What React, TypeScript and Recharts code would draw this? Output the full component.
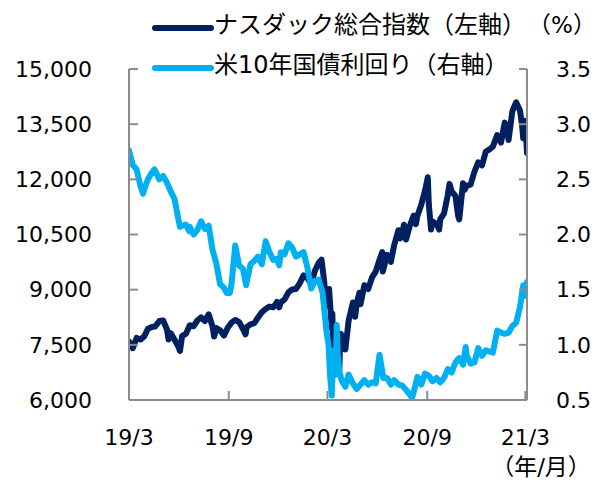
import React from "react";
import { LineChart, Line, XAxis, YAxis } from "recharts";

const nasdaqName = "ナスダック総合指数（左軸）";
const yieldName = "米10年国債利回り（右軸）";
const nasdaqColor = "#002060";
const yieldColor = "#00B0F0";

const nasdaqDates = [
  "2019-03-01","2019-03-08","2019-03-15","2019-03-22","2019-03-29","2019-04-05","2019-04-12","2019-04-18","2019-04-26","2019-05-03",
  "2019-05-10","2019-05-13","2019-05-17","2019-05-24","2019-05-31","2019-06-03","2019-06-07","2019-06-14","2019-06-21","2019-06-28",
  "2019-07-05","2019-07-12","2019-07-19","2019-07-26","2019-08-02","2019-08-05","2019-08-09","2019-08-16","2019-08-23","2019-08-30",
  "2019-09-06","2019-09-13","2019-09-20","2019-09-27","2019-10-02","2019-10-04","2019-10-11","2019-10-18","2019-10-25","2019-11-01",
  "2019-11-08","2019-11-15","2019-11-22","2019-11-29","2019-12-03","2019-12-06","2019-12-13","2019-12-20","2019-12-27","2020-01-03",
  "2020-01-10","2020-01-17","2020-01-24","2020-01-31","2020-02-07","2020-02-14","2020-02-19","2020-02-21","2020-02-24","2020-02-27",
  "2020-03-03","2020-03-04","2020-03-06","2020-03-09","2020-03-10","2020-03-12","2020-03-13","2020-03-16","2020-03-17","2020-03-18",
  "2020-03-20","2020-03-23","2020-03-24","2020-03-26","2020-03-27","2020-03-31","2020-04-03","2020-04-09","2020-04-17","2020-04-21",
  "2020-04-24","2020-04-29","2020-05-01","2020-05-08","2020-05-15","2020-05-22","2020-05-29","2020-06-05","2020-06-10","2020-06-11",
  "2020-06-19","2020-06-26","2020-07-02","2020-07-10","2020-07-13","2020-07-17","2020-07-20","2020-07-24","2020-07-31","2020-08-07",
  "2020-08-11","2020-08-14","2020-08-21","2020-08-28","2020-09-02","2020-09-04","2020-09-08","2020-09-11","2020-09-18","2020-09-23",
  "2020-09-25","2020-10-02","2020-10-09","2020-10-12","2020-10-16","2020-10-23","2020-10-28","2020-10-30","2020-11-06","2020-11-09",
  "2020-11-13","2020-11-20","2020-11-27","2020-12-04","2020-12-11","2020-12-18","2020-12-24","2020-12-31","2021-01-08","2021-01-15",
  "2021-01-22","2021-01-27","2021-01-29","2021-02-05","2021-02-12","2021-02-19","2021-02-23","2021-02-25","2021-03-01","2021-03-04",
];
const nasdaqValues = [
  7595,7408,7688,7643,7729,7938,7984,7998,8146,8164,
  7917,7647,7816,7637,7453,7333,7742,7797,8032,8006,
  8162,8244,8146,8330,8004,7726,7959,7896,7751,7963,
  8103,8177,8118,7940,7785,7982,8057,8090,8243,8386,
  8475,8540,8519,8665,8521,8656,8735,8925,9007,9020,
  9179,9389,9315,9151,9520,9731,9817,9577,9221,8567,
  8684,9018,8576,7950,8344,7201,7875,6905,7335,6989,
  6880,6860,7418,7798,7502,7700,7373,8154,8650,8263,
  8634,8914,8605,9121,9015,9325,9490,9815,10020,9493,
  9946,9757,10208,10617,10391,10503,10767,10363,10745,11011,
  10782,11019,11312,11696,12056,11313,10633,10854,10793,10633,
  10913,11076,11580,11876,11671,11548,11005,10912,11895,11713,
  11829,11855,12206,12464,12378,12756,12805,12888,13202,12999,
  13543,13271,13071,13856,14095,13874,13465,13119,13589,12723,
];

const yieldDates = [
  "2019-03-01","2019-03-08","2019-03-15","2019-03-22","2019-03-27","2019-03-29","2019-04-05","2019-04-12","2019-04-17","2019-04-26",
  "2019-05-03","2019-05-10","2019-05-17","2019-05-24","2019-05-31","2019-06-03","2019-06-07","2019-06-14","2019-06-20","2019-06-21",
  "2019-06-28","2019-07-05","2019-07-12","2019-07-19","2019-07-26","2019-08-02","2019-08-09","2019-08-16","2019-08-23","2019-08-28",
  "2019-09-03","2019-09-06","2019-09-13","2019-09-20","2019-09-27","2019-10-03","2019-10-11","2019-10-18","2019-10-25","2019-11-01",
  "2019-11-08","2019-11-15","2019-11-22","2019-11-29","2019-12-03","2019-12-06","2019-12-13","2019-12-20","2019-12-27","2020-01-03",
  "2020-01-10","2020-01-17","2020-01-24","2020-01-31","2020-02-07","2020-02-14","2020-02-21","2020-02-28","2020-03-03","2020-03-06",
  "2020-03-09","2020-03-11","2020-03-13","2020-03-16","2020-03-18","2020-03-20","2020-03-23","2020-03-27","2020-04-03","2020-04-09",
  "2020-04-17","2020-04-24","2020-05-01","2020-05-08","2020-05-15","2020-05-22","2020-05-29","2020-06-05","2020-06-12","2020-06-19",
  "2020-06-26","2020-07-02","2020-07-10","2020-07-17","2020-07-24","2020-07-31","2020-08-04","2020-08-07","2020-08-14","2020-08-21",
  "2020-08-28","2020-09-04","2020-09-11","2020-09-18","2020-09-25","2020-10-02","2020-10-09","2020-10-16","2020-10-23","2020-10-30",
  "2020-11-06","2020-11-11","2020-11-13","2020-11-20","2020-11-27","2020-12-04","2020-12-11","2020-12-18","2020-12-24","2020-12-31",
  "2021-01-08","2021-01-15","2021-01-22","2021-01-29","2021-02-05","2021-02-12","2021-02-19","2021-02-25","2021-02-26","2021-03-04",
];
const yieldValues = [
  2.76,2.63,2.59,2.44,2.37,2.41,2.50,2.56,2.59,2.50,
  2.53,2.47,2.39,2.32,2.14,2.07,2.08,2.09,2.03,2.07,
  2.00,2.04,2.12,2.05,2.08,1.86,1.74,1.55,1.52,1.47,
  1.47,1.55,1.90,1.72,1.69,1.54,1.73,1.76,1.80,1.73,
  1.94,1.84,1.77,1.78,1.72,1.84,1.82,1.92,1.88,1.80,
  1.82,1.84,1.70,1.51,1.58,1.59,1.47,1.13,1.00,0.71,
  0.54,0.82,0.95,0.73,1.18,0.92,0.76,0.68,0.62,0.73,
  0.65,0.60,0.64,0.68,0.64,0.66,0.65,0.91,0.70,0.70,
  0.64,0.68,0.64,0.63,0.59,0.55,0.52,0.57,0.71,0.64,
  0.74,0.72,0.67,0.70,0.66,0.70,0.78,0.75,0.84,0.88,
  0.82,0.98,0.90,0.83,0.84,0.97,0.90,0.95,0.94,0.93,
  1.13,1.11,1.10,1.11,1.17,1.20,1.34,1.54,1.44,1.57,
];

const xTickDates = ["2019-03-01", "2019-09-01", "2020-03-01", "2020-09-01", "2021-03-01"];
const xTickLabels = ["19/3", "19/9", "20/3", "20/9", "21/3"];
const leftTicks = [6000, 7500, 9000, 10500, 12000, 13500, 15000];
const rightTicks = [0.5, 1.0, 1.5, 2.0, 2.5, 3.0, 3.5];
const leftUnit = "（%）";
const xUnit = "（年/月）";

const toDay = (s: string) => {
  const [y, m, d] = s.split("-").map(Number);
  return (Date.UTC(y, m - 1, d) - Date.UTC(2019, 2, 1)) / 86400000;
};

const nasdaqData = nasdaqDates.map((d, i) => ({ t: toDay(d), v: nasdaqValues[i] }));
const yieldData = yieldDates.map((d, i) => ({ t: toDay(d), v: yieldValues[i] }));
const xTicks = xTickDates.map(toDay);
const xLabelMap: Record<number, string> = {};
xTicks.forEach((t, i) => (xLabelMap[t] = xTickLabels[i]));
const xDomain = [0, toDay(nasdaqDates[nasdaqDates.length - 1])];

const FONT = "'DejaVu Sans', 'Noto Sans CJK JP', sans-serif";
const axisColor = "#8C8C8C";
const tickStyle = { fontSize: 22, fill: "#000", fontFamily: FONT };

const series = [
  { name: nasdaqName, color: nasdaqColor },
  { name: yieldName, color: yieldColor },
];

export default function App() {
  return (
    <div style={{ position: "absolute", left: 0, top: 0, width: 605, height: 482, background: "#fff", fontFamily: FONT }}>
      <LineChart width={605} height={482} margin={{ top: 69, right: 0, bottom: 0, left: 0 }}>
        <XAxis
          dataKey="t"
          type="number"
          domain={xDomain}
          ticks={xTicks}
          tickFormatter={(v: number) => xLabelMap[v] ?? ""}
          height={82}
          stroke={axisColor}
          strokeWidth={2}
          tickSize={-9}
          tickMargin={38}
          tick={tickStyle}
          allowDataOverflow
        />
        <YAxis
          yAxisId="left"
          orientation="left"
          domain={[6000, 15000]}
          ticks={leftTicks}
          width={129}
          stroke={axisColor}
          strokeWidth={2}
          tickSize={-9}
          tickMargin={46}
          tick={tickStyle}
          tickFormatter={(v: number) => v.toLocaleString("en-US")}
          interval={0}
        />
        <YAxis
          yAxisId="right"
          orientation="right"
          domain={[0.5, 3.5]}
          ticks={rightTicks}
          width={78}
          stroke={axisColor}
          strokeWidth={2}
          tickSize={-8}
          tickMargin={37}
          tick={tickStyle}
          tickFormatter={(v: number) => v.toFixed(1)}
          interval={0}
        />
        <Line
          yAxisId="left"
          data={nasdaqData}
          dataKey="v"
          name={nasdaqName}
          stroke={nasdaqColor}
          strokeWidth={6}
          dot={false}
          strokeLinejoin="round"
          strokeLinecap="round"
          isAnimationActive={false}
        />
        <Line
          yAxisId="right"
          data={yieldData}
          dataKey="v"
          name={yieldName}
          stroke={yieldColor}
          strokeWidth={6}
          dot={false}
          strokeLinejoin="round"
          strokeLinecap="round"
          isAnimationActive={false}
        />
      </LineChart>
      <svg width={605} height={482} style={{ position: "absolute", left: 0, top: 0, pointerEvents: "none" }}>
        {series.map((s, i) => (
          <g key={s.name}>
            <line x1={155} x2={211} y1={28 + i * 40} y2={28 + i * 40} stroke={s.color} strokeWidth={6} strokeLinecap="round" />
            <text x={214} y={33 + i * 40} fontSize={24} fontFamily={FONT} fill="#000">
              {s.name}
            </text>
          </g>
        ))}
        <text x={562} y={33} fontSize={23} fontFamily={FONT} fill="#000" textAnchor="middle">
          {leftUnit}
        </text>
        <text x={541} y={475} fontSize={23} fontFamily={FONT} fill="#000" textAnchor="middle">
          {xUnit}
        </text>
      </svg>
    </div>
  );
}
